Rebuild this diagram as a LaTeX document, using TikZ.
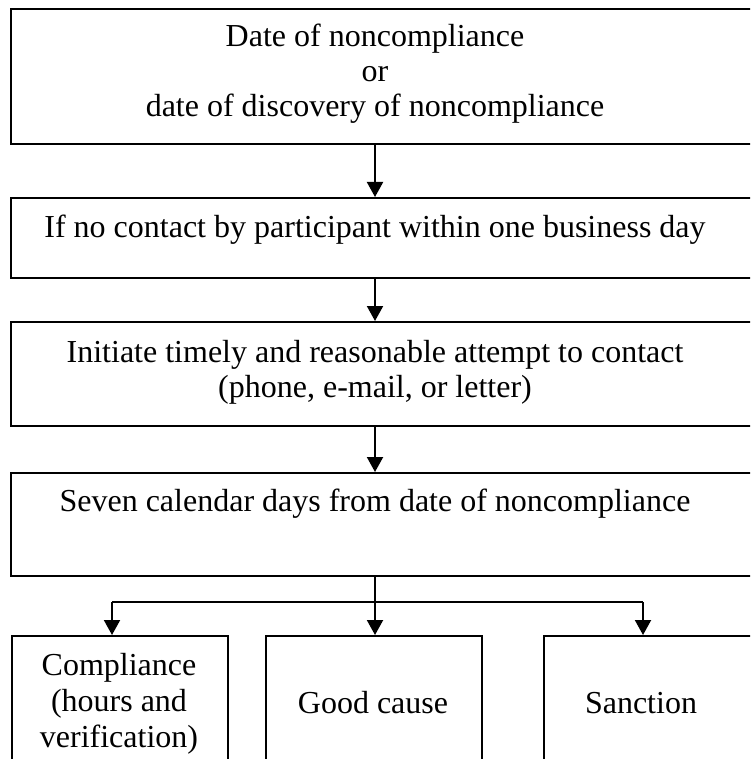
\documentclass[tikz,border=0pt]{standalone}
\usepackage{fontspec}
\setmainfont{Liberation Serif}
\usetikzlibrary{arrows.meta}
\begin{document}
\begin{tikzpicture}[x=1pt,y=-1pt,
  box/.style={draw=black,line width=2pt,rectangle,inner sep=0pt},
  txt/.style={font=\fontsize{32}{35.5}\selectfont,align=center,inner sep=0pt,anchor=base},
  arr/.style={line width=2pt,-{Triangle[length=15pt,width=16pt]}},
  ln/.style={line width=2pt}]
\useasboundingbox (0,0) rectangle (750,759);
\clip (0,0) rectangle (750,759);
% boxes
\node[box,minimum width=760pt,minimum height=135pt,anchor=north west] (b1) at (10,8) {};
\node[box,minimum width=760pt,minimum height=80pt,anchor=north west] (b2) at (10,197) {};
\node[box,minimum width=760pt,minimum height=104pt,anchor=north west] (b3) at (10,321) {};
\node[box,minimum width=760pt,minimum height=103pt,anchor=north west] (b4) at (10,472) {};
\node[box,minimum width=216pt,minimum height=160pt,anchor=north west] (c1) at (11,635) {};
\node[box,minimum width=216pt,minimum height=160pt,anchor=north west] (c2) at (265,635) {};
\node[box,minimum width=220pt,minimum height=160pt,anchor=north west] (c3) at (543,635) {};
% texts
\node[txt] (t1a) at (375,47) {Date of noncompliance};
\node[txt] (t1b) at (375,82) {or};
\node[txt] (t1c) at (375,117) {date of discovery of noncompliance};
\node[txt] (t2) at (375,237) {If no contact by participant within one business day};
\node[txt] (t3a) at (375,362) {Initiate timely and reasonable attempt to contact};
\node[txt] (t3b) at (375,397) {(phone, e-mail, or letter)};
\node[txt] (t4) at (375,511) {Seven calendar days from date of noncompliance};
\node[txt] (u1a) at (119,675) {Compliance};
\node[txt] (u1b) at (119,711) {(hours and};
\node[txt] (u1c) at (119,747) {verification)};
\node[txt] (u2) at (373,713) {Good cause};
\node[txt] (u3) at (641,713) {Sanction};
% connectors
\coordinate (m1) at (375,0);
\coordinate (lx) at (112,602);
\coordinate (rx) at (643,602);
\coordinate (mx) at (375,602);
\draw[arr] (m1 |- b1.south) -- (m1 |- b2.north);
\draw[arr] (m1 |- b2.south) -- (m1 |- b3.north);
\draw[arr] (m1 |- b3.south) -- (m1 |- b4.north);
\draw[arr] (m1 |- b4.south) -- (m1 |- c2.north);
\draw[ln] (lx) -- (rx);
\draw[arr] (lx) -- (lx |- c1.north);
\draw[arr] (rx) -- (rx |- c3.north);
\end{tikzpicture}
\end{document}
